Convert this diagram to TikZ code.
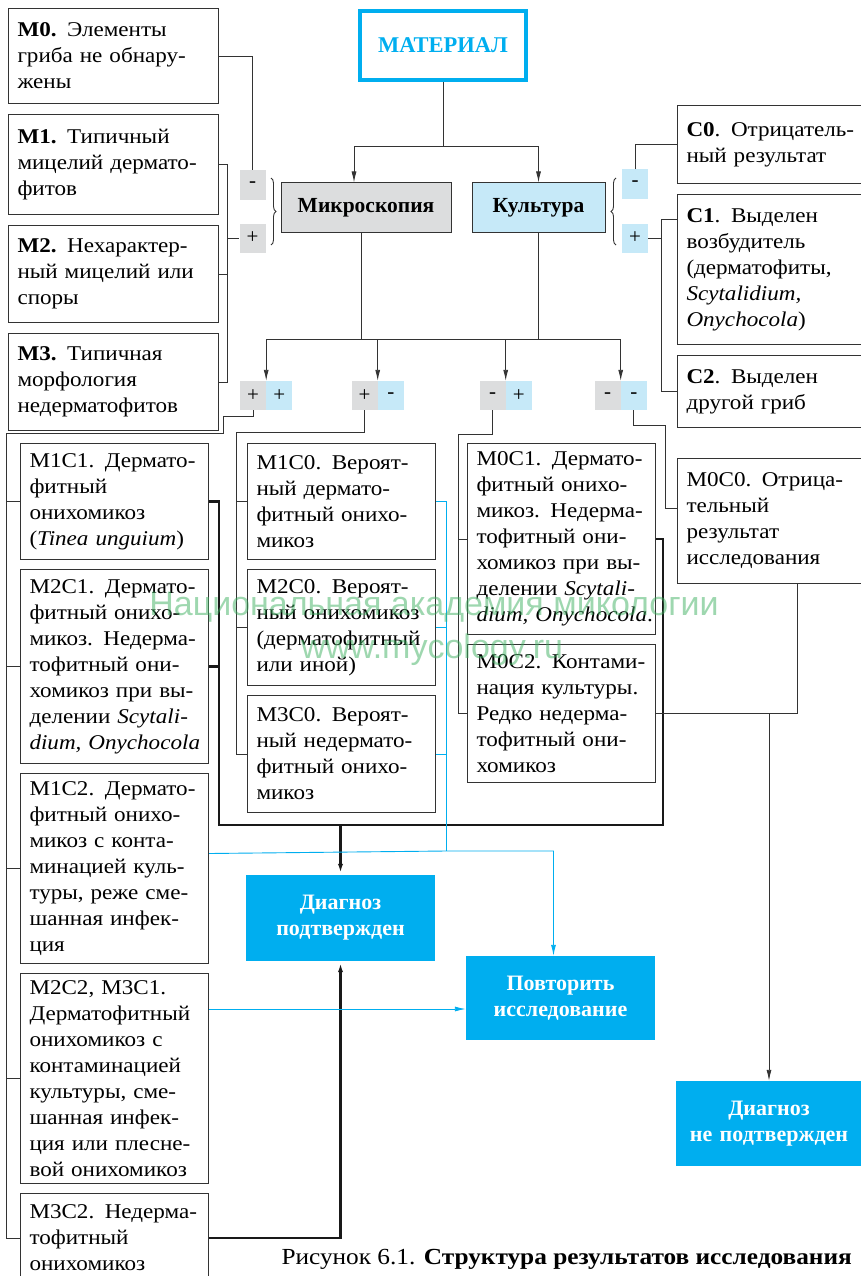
\documentclass[tikz,border=0pt]{standalone}
\usepackage{xcolor}
\usepackage{fontspec}
\setmainfont{Liberation Serif}
\newfontfamily\bodyfont{Liberation Serif}[FakeStretch=1.1]
\newfontfamily\wmfont{Liberation Sans}
\usepackage{tikz}
\usetikzlibrary{shapes,arrows.meta,positioning,calc,decorations.pathreplacing}

\definecolor{mcyan}{HTML}{00AEEF}
\definecolor{mblue}{HTML}{C6E9F8}
\definecolor{mgray}{HTML}{DCDDDE}
\definecolor{mline}{HTML}{333333}
\definecolor{mgreen}{HTML}{3DB060}

\hbadness=10000
\hfuzz=20pt
% justified line and justified last line
\newcommand{\jl}[1]{\makebox[\linewidth][s]{#1}\\}
\newcommand{\jf}[1]{\makebox[\linewidth][s]{#1}}

\begin{document}
\begin{tikzpicture}[
    x=1pt, y=-1pt,
    >={Latex[length=11pt,width=5pt]},
    node distance=9pt,
    conn/.style={draw=mline, line width=0.9pt},
    heavy/.style={draw=black!90, line width=2.2pt},
    cyanconn/.style={draw=mcyan, line width=0.9pt},
    method/.style={rectangle, draw=mline, line width=1pt, minimum height=49pt, font=\fontsize{21.5}{24}\selectfont\bfseries},
    signbox/.style={rectangle, inner sep=0pt, minimum width=26pt, minimum height=29pt, font=\fontsize{21}{24}\selectfont},
    finding/.style={rectangle, draw=mline, line width=1pt, text width=192pt, inner xsep=9pt, inner ysep=2pt, align=left, font=\bodyfont\fontsize{21}{26}\selectfont},
    result/.style={rectangle, draw=mline, line width=1pt, text width=170pt, inner xsep=9pt, inner ysep=2pt, align=left, font=\bodyfont\fontsize{21}{26}\selectfont},
    verdict/.style={rectangle, fill=mcyan, text=white, text width=170pt, inner xsep=9.5pt, align=center, font=\fontsize{22}{26}\selectfont\bfseries},
]
    \useasboundingbox (0,0) rectangle (860,1276);

    % Material and methods
    \node[draw=mcyan, line width=4pt, minimum width=166pt, minimum height=69pt, text=mcyan, font=\fontsize{22.5}{24}\selectfont\bfseries] (mat) at (443,45.5) {МАТЕРИАЛ};
    \node[method, fill=mgray, minimum width=170pt] (micro) at (366,207.5) {Микроскопия};
    \node[method, fill=mblue, minimum width=133pt] (cult) at (538.5,207.5) {Культура};

    \coordinate (fork) at (0,146);
    \draw[conn] (mat.south) -- (mat.south |- fork);
    \draw[conn, ->] (mat.south |- fork) -| ([xshift=-12pt]micro.north);
    \draw[conn, ->] (mat.south |- fork) -| (cult.north);

    % Microscopy findings
    \node[signbox, fill=mgray] (m_neg) at (252.5,185) {-};
    \node[signbox, fill=mgray] (m_pos) at (252.5,238) {+};
    \draw[conn, decorate, decoration={brace, amplitude=5pt}] (271,178) -- (271,245);

    \node[finding, minimum height=95pt, anchor=north west] (m0) at (8,8) {\textbf{M0.} Элементы\\ \jl{гриба не обнару-}жены};
    \node[finding, minimum height=100pt, below=10pt of m0] (m1) {\textbf{M1.} Типичный\\ \jl{мицелий дермато-}фитов};
    \node[finding, minimum height=97pt, below=10pt of m1] (m2) {\jl{\textbf{M2.} Нехарактер-}\jl{ный мицелий или}споры};
    \node[finding, minimum height=97pt, below=10pt of m2] (m3) {\textbf{M3.} Типичная\\ морфология\\ недерматофитов};

    \coordinate (mbar) at (227,0);
    \draw[conn] (m0.east) -| (m_neg.north);
    \draw[conn] (m1.east) -| (mbar |- m3.east) -- (m3.east);
    \draw[conn] (m2.east) -- (mbar |- m2.east);
    \draw[conn] (mbar |- m_pos) -- (m_pos.west);

    % Culture findings
    \node[signbox, fill=mblue] (c_neg) at (635,184) {-};
    \node[signbox, fill=mblue] (c_pos) at (635,238) {+};
    \draw[conn, decorate, decoration={brace, amplitude=5pt}] (616,245) -- (616,178);

    \node[finding, text width=167pt, minimum height=78pt, anchor=north west] (c0) at (677,105) {\mbox{\textbf{C0}. Отрицатель-}\\ ный результат};
    \node[finding, text width=167pt, minimum height=150pt, below=10pt of c0] (c1) {\textbf{C1}. Выделен\\ возбудитель\\ (дерматофиты,\\ \textit{Scytalidium,}\\ \textit{Onychocola})};
    \node[finding, text width=167pt, minimum height=72pt, below=10pt of c1] (c2) {\textbf{C2}. Выделен\\ другой гриб};

    \coordinate (cbar) at (661,0);
    \draw[conn] (c_neg.north) |- (c0.west);
    \draw[conn] ([yshift=50pt]c1.west) -| (cbar |- c2.west) -- (c2.west);
    \draw[conn] (c_pos.east) -- (cbar |- c_pos.east);

    % Combinations
    \node[signbox, fill=mgray] (pp_m) at (253,395.5) {+};
    \node[signbox, fill=mblue, right=0pt of pp_m] (pp_c) {+};
    \node[signbox, fill=mgray] (pn_m) at (364.5,395.5) {+};
    \node[signbox, fill=mblue, right=0pt of pn_m] (pn_c) {-};
    \node[signbox, fill=mgray] (np_m) at (492.5,395.5) {-};
    \node[signbox, fill=mblue, right=0pt of np_m] (np_c) {+};
    \node[signbox, fill=mgray] (nn_m) at (607.5,395.5) {-};
    \node[signbox, fill=mblue, right=0pt of nn_m] (nn_c) {-};

    \coordinate (bus) at (0,339);
    \draw[conn] ([xshift=-5pt]micro.south) -- ([xshift=-5pt]micro.south |- bus);
    \draw[conn] (cult.south) -- (cult.south |- bus);
    \draw[conn] (pp_m.north east |- bus) -- (nn_m.north east |- bus);
    \draw[conn, ->] (pp_m.north east |- bus) -- (pp_m.north east);
    \draw[conn, ->] (pn_m.north east |- bus) -- (pn_m.north east);
    \draw[conn, ->] (np_m.north east |- bus) -- (np_m.north east);
    \draw[conn, ->] (nn_m.north east |- bus) -- (nn_m.north east);

    % Results: M+ C+ and M+ C2
    \node[result, minimum height=116pt, anchor=north west] (m1c1) at (20,443) {\jl{M1C1. Дермато-}фитный\\ онихомикоз\\ (\textit{Tinea unguium})};
    \node[result, minimum height=194pt, below=of m1c1] (m2c1) {\jl{M2C1. Дермато-}\jl{фитный онихо-}\jl{микоз. Недерма-}\jl{тофитный они-}\jl{хомикоз при вы-}\jl{делении \textit{Scytali-}}\jf{\textit{dium, Onychocola}}};
    \node[result, minimum height=190pt, below=of m2c1] (m1c2) {\jl{M1C2. Дермато-}\jl{фитный онихо-}\jl{микоз с конта-}\jl{минацией куль-}\jl{туры, реже сме-}\jl{шанная инфек-}ция};
    \node[result, minimum height=210pt, below=of m1c2] (m2c2) {\jl{M2C2, M3C1.}\jl{Дерматофитный}\jl{онихомикоз с}\jl{контаминацией}\jl{культуры, сме-}\jl{шанная инфек-}\jl{ция или плесне-}\jf{вой онихомикоз}};
    \node[result, minimum height=89pt, below=of m2c2] (m3c2) {\jl{M3C2. Недерма-}тофитный\\ онихомикоз};

    \coordinate (lbar) at (6,0);
    \draw[conn] (pp_m.south) -- ++(0,6) -| ++(-30,17) -| (lbar |- m3c2.west) -- (m3c2.west);
    \draw[conn] (m1c1.west) -- (lbar |- m1c1.west);
    \draw[conn] (m2c1.west) -- (lbar |- m2c1.west);
    \draw[conn] (m1c2.west) -- (lbar |- m1c2.west);
    \draw[conn] (m2c2.west) -- (lbar |- m2c2.west);

    % Results: M+ C0
    \node[result, minimum height=116pt, anchor=north west] (m1c0) at (247,443) {\jl{M1C0. Вероят-}\jl{ный дермато-}\jl{фитный онихо-}микоз};
    \node[result, minimum height=116pt, below=of m1c0] (m2c0) {\jl{M2C0. Вероят-}\jl{ный онихомикоз}\jl{(дерматофитный}или иной)};
    \node[result, minimum height=117pt, below=of m2c0] (m3c0) {\jl{M3C0. Вероят-}\jl{ный недермато-}\jl{фитный онихо-}микоз};

    \coordinate (mbar2) at (236,0);
    \draw[conn] (pn_m.south) -- ++(0,22) -| (mbar2 |- m3c0.west) -- (m3c0.west);
    \draw[conn] (m1c0.west) -- (mbar2 |- m1c0.west);
    \draw[conn] (m2c0.west) -- (mbar2 |- m2c0.west);

    % Results: M0 C+
    \node[result, minimum height=191pt, anchor=north west] (m0c1) at (467,443) {\jl{M0C1. Дермато-}\jl{фитный онихо-}\jl{микоз. Недерма-}\jl{тофитный они-}\jl{хомикоз при вы-}\jl{делении \textit{Scytali-}}\jf{\textit{dium, Onychocola}.}};
    \node[result, minimum height=138pt, below=of m0c1] (m0c2) {\jl{M0C2. Контами-}\jl{нация культуры.}\jl{Редко недерма-}\jl{тофитный они-}хомикоз};

    \coordinate (mbar3) at (458,0);
    \draw[conn] (np_m.south) -- ++(0,24) -| (mbar3 |- m0c2.west) -- (m0c2.west);
    \draw[conn] (m0c1.west) -- (mbar3 |- m0c1.west);

    % Result: M0 C0
    \node[result, text width=167pt, minimum height=125pt, anchor=north west] (m0c0) at (677,458) {M0C0. Отрица-\\ тельный\\ результат\\ исследования};
    \draw[conn] (nn_c.south) |- (665,425) |- ([yshift=13pt]m0c0.west);

    % Outcomes
    \node[verdict, minimum height=86pt] (confirmed) at (340.5,918) {Диагноз\\ подтвержден};
    \node[verdict, minimum height=84pt] (retry) at (560.5,998) {Повторить\\ исследование};
    \node[verdict, minimum height=85pt, text width=167pt] (notconf) at (769,1123.5) {Диагноз\\ не подтвержден};

    \coordinate (tbar_l) at (219,825);
    \coordinate (tbar_r) at (663,825);
    \draw[heavy] (m1c1.east) -| (tbar_l) -- (tbar_r) |- (m0c1.east);
    \draw[heavy] (m2c1.east) -- (tbar_l |- m2c1.east);
    \draw[heavy, ->] (confirmed.north |- tbar_l) -- (confirmed.north);
    \draw[heavy, ->] (m3c2.east) -| (confirmed.south);

    \coordinate (bbar) at (446,851);
    \coordinate (retry_in) at ([yshift=-11pt]retry.west);
    \draw[cyanconn, ->] ([yshift=15pt]m1c2.east) -- (bbar) -| ([xshift=-7pt]retry.north);
    \draw[cyanconn] (m1c0.east) -| (bbar);
    \draw[cyanconn] (m2c0.east) -- (bbar |- m2c0.east);
    \draw[cyanconn] (m3c0.east) -- (bbar |- m3c0.east);
    \draw[cyanconn, ->] (retry_in -| m2c2.east) -- (retry_in);

    \draw[conn] (m0c2.east) -| ([xshift=27pt]m0c0.south);
    \draw[conn, ->] (notconf.north |- m0c2.east) -- (notconf.north);

    % Caption and watermark
    \node[anchor=base east, inner sep=0pt, font=\bodyfont\fontsize{23}{28}\selectfont] (caption) at (852,1264) {Рисунок 6.1. \textbf{Структура результатов исследования}};
    \node[text=mgreen, text opacity=0.5, font=\wmfont\fontsize{34}{40}\selectfont] (wm_name) at (434,607) {Национальная академия микологии};
    \node[text=mgreen, text opacity=0.5, font=\wmfont\fontsize{34}{40}\selectfont] (wm_site) at (432,650) {www.mycology.ru};

\end{tikzpicture}
\end{document}
